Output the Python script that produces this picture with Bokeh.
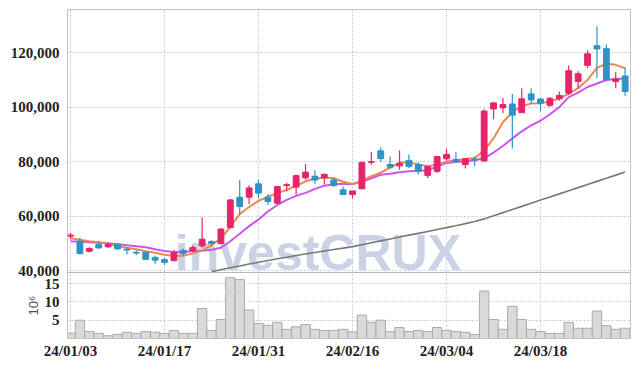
from bokeh.plotting import figure
from bokeh.layouts import column
from bokeh.models import (ColumnDataSource, FixedTicker, NumeralTickFormatter, Range1d,
                          Span, LinearAxis, Title)
from bokeh.core.properties import value
from bokeh.embed import file_html
from bokeh.resources import INLINE

nan = float("nan")

# ---- data ----
opens = [52600, 50800, 47100, 49500, 48700, 49700, 47800, 46700, 46700, 44800,
         44000, 43600, 47300, 47200, 49000, 50600, 49900, 55800, 66900, 66900,
         71800, 66900, 64700, 71200, 70600, 74000, 74600, 74000, 73200, 69600,
         67900, 70000, 79700, 83900, 78900, 78400, 80400, 78900, 74900, 76400,
         81000, 80800, 78900, 80900, 80200, 99300, 99700, 101100, 97900, 104800,
         102900, 100600, 103000, 105100, 109400, 115300, 122500, 121400, 109400, 111400]
closes = [53000, 46200, 48100, 48300, 49600, 47900, 47500, 46400, 44100, 43800,
          43000, 46600, 46200, 48400, 51500, 49900, 55200, 65900, 63500, 70300,
          68400, 65300, 70800, 71500, 74800, 76100, 73200, 75300, 71200, 67900,
          69200, 79700, 80000, 81100, 77900, 79300, 78200, 76400, 78200, 81800,
          82600, 80100, 81000, 80600, 98500, 101500, 100900, 97000, 103000, 102600,
          101400, 103200, 104200, 113300, 112200, 119500, 121300, 110000, 110300, 105700]
highs = [53800, 52100, 48500, 50600, 50100, 49800, 48600, 47400, 46700, 45500,
         44800, 47500, 48000, 49200, 59500, 51100, 55600, 66200, 73300, 71300,
         73300, 68100, 71100, 72100, 75100, 79100, 76800, 75500, 74000, 70800,
         69300, 79900, 83400, 85200, 81800, 84000, 82600, 79700, 78300, 82000,
         84700, 83500, 81400, 81800, 99200, 101800, 103300, 104800, 106900, 106900,
         103500, 103600, 105700, 115200, 113100, 120800, 129600, 122900, 112800, 114500]
lows = [51700, 45900, 46600, 47900, 48300, 47800, 45900, 45700, 43900, 42500,
        41900, 43400, 45500, 46800, 48400, 49100, 49600, 55400, 60400, 64300,
        66500, 64000, 64400, 69000, 67800, 73300, 71800, 71500, 70600, 67800,
        66500, 69800, 78800, 79900, 77300, 77000, 77600, 75200, 73900, 75800,
        80400, 79500, 77400, 78300, 79900, 95500, 97800, 84800, 97800, 101100,
        98600, 99900, 102300, 104400, 106600, 114300, 110700, 109900, 106900, 104100]
volumes_m = [1.5, 5.0, 1.9, 1.4, 0.75, 1.1, 1.7, 1.4, 1.9, 1.7,
             1.4, 2.2, 1.4, 1.4, 8.2, 2.2, 5.2, 16.6, 16.1, 7.8,
             4.1, 3.6, 4.4, 2.5, 3.2, 3.8, 2.5, 2.2, 2.2, 2.5,
             1.8, 6.4, 4.4, 5.0, 1.9, 3.0, 1.9, 2.2, 1.9, 3.0,
             2.2, 1.9, 1.7, 1.1, 13.0, 5.2, 2.5, 8.8, 5.2, 2.5,
             1.9, 1.4, 1.4, 4.4, 2.8, 2.8, 7.5, 3.5, 2.5, 2.8]
ma_short = [51840, 51290, 50730, 50360, 49800, 48880, 48330, 47770, 47030, 46480,
            45810, 45370, 45370, 46290, 47400, 49250, 51840, 55910, 60720, 63310,
            65530, 67120, 68380, 69600, 71080, 72740, 73670, 74150, 73850, 72560,
            71710, 72930, 74600, 75890, 77740, 79590, 79780, 78850, 78220, 79040,
            79960, 80330, 80890, 81260, 84030, 88470, 94390, 98090, 100310, 101240,
            101420, 101980, 103090, 104940, 106970, 109930, 114370, 115850, 115480, 114190]
ma_mid = [50730, 50550, 50360, 50180, 49990, 49620, 49250, 48880, 48510, 47770,
          47140, 46770, 46850, 47030, 47220, 47590, 48330, 50730, 53510, 56280,
          58690, 61650, 64050, 65900, 67380, 68490, 69970, 71080, 71640, 71820,
          71710, 72560, 73850, 75150, 75520, 76080, 76450, 76630, 76820, 78110,
          79480, 79780, 80070, 80440, 81180, 83290, 85700, 88470, 91060, 93280,
          94950, 97350, 99940, 103640, 105310, 107340, 108640, 109930, 110300, 110490]
ma_long = [nan] * 15 + [39600, 40300, 41000, 41670, 42370,
                        43030, 43660, 44290, 44880, 45510, 46070, 46620, 47180, 47730, 48210,
                        48770, 49470, 50180, 50880, 51580, 52280, 52990, 53620, 54320, 55020,
                        55730, 56430, 57210, 57950, 58940, 60090, 61240, 62390, 63530, 64680,
                        65830, 66970, 68120, 69270, 70410, 71560, 72710, 73860, 75000, 76150]
tick_idx = [0, 10, 20, 30, 40, 50]
tick_labels = ["24/01/03", "24/01/17", "24/01/31", "24/02/16", "24/03/04", "24/03/18"]
price_ticks = [40000, 60000, 80000, 100000, 120000]
volume_ticks = [5, 10, 15]

UP = "#e6246a"
DOWN = "#2e93c5"
GRID = "#c3c9dc"
BORDER = "#c4c4c4"
LABEL_FONT = "Liberation Sans Narrow"

# The canvas is split into two figures along a line that no text crosses; the
# volume scale continues across the split so the bars stay seamless.
PRICE_LO, PRICE_HI = 31927, 135780   # price range of the upper figure's frame
VOL_SPLIT, VOL_TOP = 12.57, 89.9     # volume at the split / at the top of the upper frame
DIVIDER = 39266                      # price level of the price/volume divider line


def vol_to_price(vv):
    return round(PRICE_LO + (vv - VOL_SPLIT) / (VOL_TOP - VOL_SPLIT) * (PRICE_HI - PRICE_LO))


upper_vol_ticks = [t for t in volume_ticks if t > VOL_SPLIT]
lower_vol_ticks = [t for t in volume_ticks if t <= VOL_SPLIT]
upper_vol_pos = [vol_to_price(t) for t in upper_vol_ticks]

idx = list(range(len(opens)))
src = ColumnDataSource(dict(
    x=idx, o=opens, c=closes, h=highs, l=lows,
    top=[max(a, b) for a, b in zip(opens, closes)],
    bot=[min(a, b) for a, b in zip(opens, closes)],
    color=[UP if c >= o else DOWN for o, c in zip(opens, closes)],
    vol=volumes_m, ma1=ma_short, ma2=ma_mid, ma3=ma_long,
))

x_range = Range1d(-0.32, 59.57)


def style_grid(fig, yticks):
    fig.xgrid.ticker = FixedTicker(ticks=tick_idx)
    fig.ygrid.ticker = FixedTicker(ticks=yticks)
    for g in (fig.xgrid, fig.ygrid):
        g.grid_line_color = GRID
        g.grid_line_dash = "2 2"
        g.grid_line_width = 1


def style_labels(axis):
    axis.major_tick_line_color = None
    axis.minor_tick_line_color = None
    axis.major_tick_out = 0
    axis.major_tick_in = 0
    axis.minor_tick_out = 0
    axis.major_label_text_font = LABEL_FONT
    axis.major_label_text_font_size = "15px"
    axis.major_label_text_font_style = "bold"
    axis.major_label_text_color = "#222222"


def border_axis(**kw):
    return LinearAxis(ticker=FixedTicker(ticks=[]), axis_line_color=BORDER,
                      major_tick_line_color=None, minor_tick_line_color=None,
                      major_tick_out=0, major_tick_in=0, minor_tick_out=0,
                      major_label_standoff=0, major_label_text_font_size="0px", **kw)


# ---------------- upper figure: price panel (+ top of volume panel) ----------------
p = figure(width=639, height=292, x_range=x_range, y_range=Range1d(PRICE_LO, PRICE_HI),
           output_backend="svg", toolbar_location=None, x_axis_location=None,
           min_border_left=67, min_border_right=9, min_border_top=9, min_border_bottom=0)
p.extra_y_ranges = {"vol": Range1d(VOL_SPLIT, VOL_TOP)}
p.outline_line_color = None
style_grid(p, price_ticks + upper_vol_pos)
ax = p.yaxis[0]
ax.ticker = FixedTicker(ticks=price_ticks + upper_vol_pos)
ax.formatter = NumeralTickFormatter(format="0,0")
ax.major_label_overrides = {t: str(vv) for t, vv in zip(upper_vol_pos, upper_vol_ticks)}
ax.axis_line_color = BORDER
ax.major_label_standoff = 8
style_labels(ax)
p.add_layout(border_axis(), "right")
p.add_layout(border_axis(), "above")

p.text(x=[11.1], y=[46600], text=["investCRUX"], text_font=value("Liberation Sans"),
       text_font_style="bold", text_font_size="50px", text_color="#c6cde3",
       text_alpha=0.9, text_align="left", text_baseline="middle")
p.vbar(x="x", top="vol", bottom=0, width=1.0, source=src, y_range_name="vol",
       fill_color="#dadada", line_color="#aaaaaa", line_width=1)
p.add_layout(Span(location=DIVIDER, dimension="width", line_color="#b8b8b8", line_width=1.2))
p.line("x", "ma3", source=src, line_color="#7a7a7a", line_width=1.6)
p.line("x", "ma2", source=src, line_color="#cc55ea", line_width=2)
p.line("x", "ma1", source=src, line_color="#ef864c", line_width=2)
p.segment(x0="x", y0="h", x1="x", y1="l", source=src, line_color="color", line_width=1.2)
p.vbar(x="x", top="top", bottom="bot", width=0.62, source=src,
       fill_color="color", line_color="color", line_width=1)

# ---------------- lower figure: rest of the volume panel ----------------
v = figure(width=639, height=74, x_range=x_range, y_range=Range1d(0, VOL_SPLIT),
           output_backend="svg", toolbar_location=None,
           min_border_left=67, min_border_right=9, min_border_top=0, min_border_bottom=28)
v.outline_line_color = None
style_grid(v, lower_vol_ticks)
v.vbar(x="x", top="vol", bottom=0, width=1.0, source=src,
       fill_color="#dadada", line_color="#aaaaaa", line_width=1)
vy = v.yaxis[0]
vy.ticker = FixedTicker(ticks=lower_vol_ticks)
vy.axis_line_color = BORDER
vy.major_label_standoff = 8
style_labels(vy)
v.add_layout(Title(text="10\u2076", align="left", offset=23, standoff=2,
                   text_font="Liberation Sans", text_font_style="normal",
                   text_font_size="13px", text_color="#555555"), "left")
v.add_layout(border_axis(), "right")
vx = v.xaxis[0]
vx.ticker = FixedTicker(ticks=tick_idx)
vx.major_label_overrides = {t: s for t, s in zip(tick_idx, tick_labels)}
vx.axis_line_color = BORDER
vx.major_label_standoff = 4
style_labels(vx)

layout = column(p, v, spacing=0)
open("out.html", "w").write(file_html(layout, INLINE))
